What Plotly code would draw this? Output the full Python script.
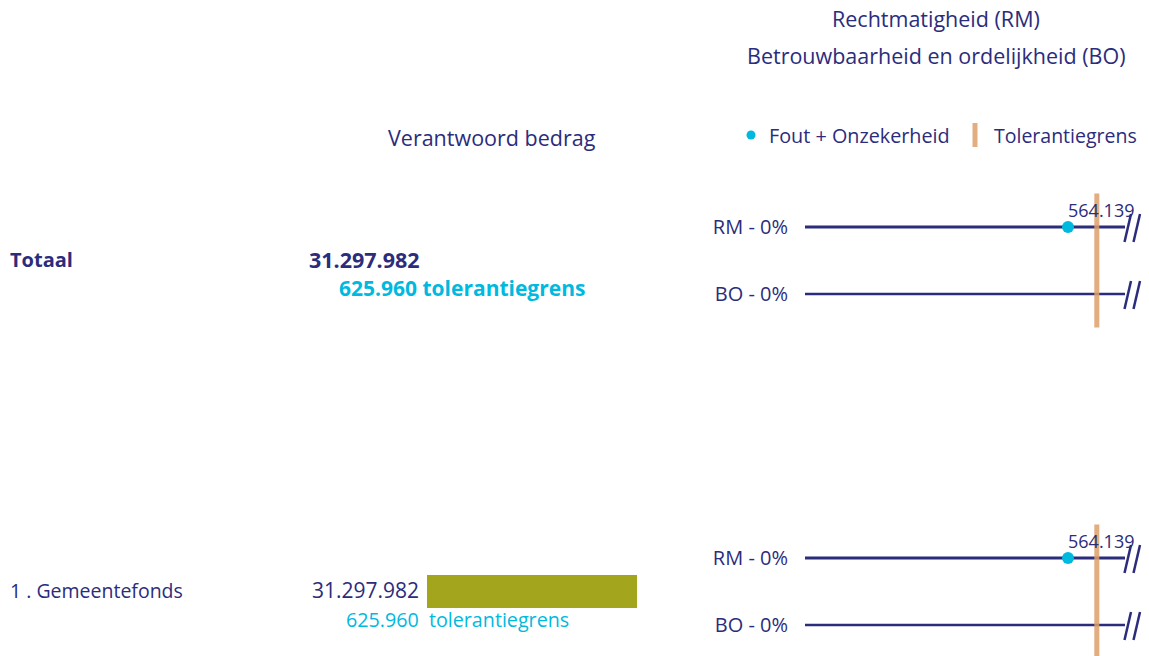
import plotly.graph_objects as go

# ---- data ----
row_names = ["Totaal", "1 . Gemeentefonds"]
verantwoord = [31297982, 31297982]
tolerantie = [625960, 625960]
fout_onzekerheid_rm = [564139, 564139]
metric_labels = ["RM - 0%", "BO - 0%"]
axis_break = 686400  # visual cut-off of the scale (break marks)

W, H = 1149, 656
NAVY = "#2B2C7C"
CYAN = "#00B9DF"
OLIVE = "#A3A51C"
ORANGE = "rgba(222,160,105,0.85)"
FONT = "Open Sans"


def px(x):
    return x / W


def py(y):
    return 1 - y / H


def fmt(v):
    return f"{v:,}".replace(",", ".")


fig = go.Figure()

panel_axes = ["y2", "y3"]
for i, ya in enumerate(panel_axes):
    for j in range(2):
        fig.add_trace(go.Scatter(
            x=[0, axis_break], y=[j, j], mode="lines",
            line=dict(color=NAVY, width=3 if j == 0 else 2.5),
            xaxis="x", yaxis=ya, showlegend=False, hoverinfo="skip"))
    fig.add_trace(go.Scatter(
        x=[fout_onzekerheid_rm[i]], y=[0], mode="markers",
        marker=dict(color=CYAN, size=12),
        xaxis="x", yaxis=ya, showlegend=False))
    fig.add_annotation(x=fout_onzekerheid_rm[i], y=0, xref="x", yref=ya,
                       text=fmt(fout_onzekerheid_rm[i]), showarrow=False,
                       xanchor="left", yanchor="bottom", xshift=-2, yshift=3,
                       font=dict(family=FONT, size=18, color=NAVY))
    fig.add_shape(type="line", x0=tolerantie[i], x1=tolerantie[i],
                  xref="x", y0=0, y1=1, yref=f"{ya} domain",
                  line=dict(color=ORANGE, width=5), layer="above")

fig.add_trace(go.Bar(x=[verantwoord[1]], y=[0], orientation="h",
                     marker=dict(color=OLIVE, line=dict(width=0)), width=1,
                     xaxis="x2", yaxis="y4", showlegend=False))

for ybase in [227, 294, 558, 625]:
    for dx in [0, 9]:
        fig.add_shape(type="line", xref="paper", yref="paper",
                      x0=px(1124.5 + dx), y0=py(ybase + 15),
                      x1=px(1131 + dx), y1=py(ybase - 13),
                      line=dict(color=NAVY, width=2.5))

fig.add_shape(type="circle", xref="paper", yref="paper",
              x0=px(746.5), x1=px(755.5), y0=py(130.5), y1=py(139.5),
              fillcolor=CYAN, line=dict(width=0))
fig.add_shape(type="line", xref="paper", yref="paper",
              x0=px(975), x1=px(975), y0=py(123), y1=py(147),
              line=dict(color=ORANGE, width=5))

ann = []


def text(x, y, s, size=18, color=NAVY, anchor="left", bold=False):
    if bold:
        s = f"<b>{s}</b>"
    ann.append(dict(x=px(x), y=py(y), xref="paper", yref="paper", text=s,
                    showarrow=False, xanchor=anchor, yanchor="middle",
                    font=dict(family=FONT, size=size, color=color)))


text(936, 18, "Rechtmatigheid (RM)", size=21.5, anchor="center")
text(936, 55, "Betrouwbaarheid en ordelijkheid (BO)", size=21.5, anchor="center")
text(767, 135, "Fout + Onzekerheid", size=19.8)
text(992, 135, "Tolerantiegrens", size=19.5)
text(492, 137, "Verantwoord bedrag", size=21.5, anchor="center")

text(8, 259, row_names[0], size=20, bold=True)
text(422, 259, fmt(verantwoord[0]), size=21.5, anchor="right", bold=True)
text(587, 288, f"{fmt(tolerantie[0])} tolerantiegrens", size=21, color=CYAN,
     anchor="right", bold=True)

text(8, 590, row_names[1], size=19.5)
text(421, 590, fmt(verantwoord[1]), size=21, anchor="right")
text(458, 619, f"{fmt(tolerantie[1])}  tolerantiegrens", size=19.7, color=CYAN,
     anchor="center")

for a in ann:
    fig.add_annotation(**a)

yax_common = dict(tickvals=[0, 1], ticktext=metric_labels, showgrid=False,
                  zeroline=False, showline=False, ticks="outside", ticklen=12,
                  tickcolor="rgba(0,0,0,0)", anchor="x",
                  tickfont=dict(family=FONT, size=20, color=NAVY))

fig.update_layout(
    width=W, height=H, margin=dict(l=0, r=0, t=0, b=0),
    paper_bgcolor="white", plot_bgcolor="rgba(0,0,0,0)",
    showlegend=False,
    xaxis=dict(domain=[px(805), px(1125)], range=[0, axis_break],
               visible=False, anchor="y2"),
    yaxis2=dict(domain=[py(327.5), py(193.5)], range=[1.5, -0.5], **yax_common),
    yaxis3=dict(domain=[0, py(524.5)], range=[1.463, -0.5], **yax_common),
    xaxis2=dict(domain=[px(427), px(637)], range=[0, verantwoord[1]],
                visible=False, anchor="y4"),
    yaxis4=dict(domain=[py(608), py(575)], range=[-0.5, 0.5], visible=False,
                anchor="x2"),
)

fig.write_html("out.html", config={"displayModeBar": False},
               post_script="document.body.style.margin='0px';")
